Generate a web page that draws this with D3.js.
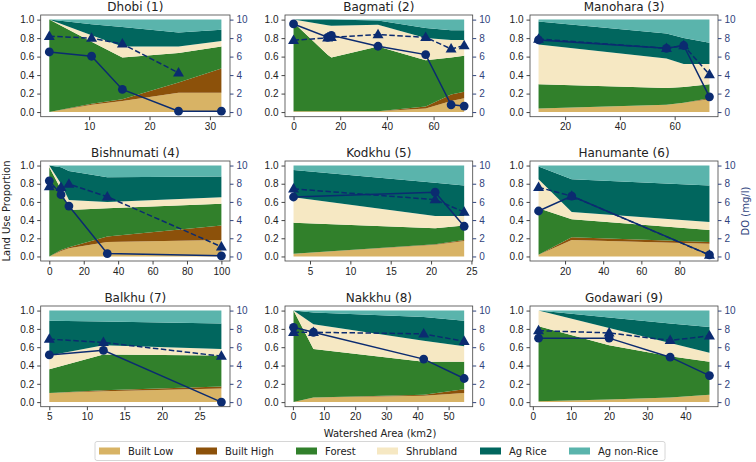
<html>
<head>
<script src="https://cdnjs.cloudflare.com/ajax/libs/d3/7.8.5/d3.min.js"></script>
<style>
  body { margin: 0; background: #fff; }
  svg { font-family: "DejaVu Sans", sans-serif; }
  .tick text { font-size: 10px; }
</style>
</head>
<body>
<svg width="756" height="462"></svg>
<script>
// ---- data ----
var sites = ["Dhobi (1)", "Bagmati (2)", "Manohara (3)", "Bishnumati (4)", "Kodkhu (5)",
             "Hanumante (6)", "Balkhu (7)", "Nakkhu (8)", "Godawari (9)"];
var classes = ["Built Low", "Built High", "Forest", "Shrubland", "Ag Rice", "Ag non-Rice"];
var colors = ["#d8b365", "#8c510a", "#31802b", "#f6e8c3", "#01665e", "#5ab4ac"];

// watershed area (km2) of the sampling points
var areaKm2 = [
  [3.4, 10.4, 15.5, 24.8, 31.9],
  [0, 14.6, 16.2, 36.2, 56.6, 67.5, 73.1],
  [10.3, 57, 63.3, 72.7],
  [0, 6.8, 11.4, 33.7, 100],
  [2.96, 20.5, 24.1],
  [6.1, 23.5, 95.7],
  [5, 12.2, 27.9],
  [0.2, 6.6, 42, 55],
  [1.5, 20, 36, 46.3]
];
var builtLow = [
  [0, .08, .12, .21, .21],
  [.01, .01, .01, .01, .04, .12, .15],
  [.04, .08, .10, .14],
  [0, .06, .09, .16, .18],
  [.03, .13, .17],
  [.02, .18, .14],
  [.10, .12, .15],
  [0, .05, .07, .10],
  [.01, .03, .05, .08]
];
var builtHigh = [
  [0, .01, .02, .11, .26],
  [0, 0, 0, 0, .02, .07, .07],
  [0, 0, 0, .01],
  [0, .01, .01, .06, .16],
  [0, .005, .01],
  [0, .03, .02],
  [0, .01, .02],
  [0, 0, .01, .04],
  [0, 0, 0, 0]
];
var forest = [
  [1.0, .67, .45, .32, .24],
  [.96, .61, .58, .70, .50, .40, .39],
  [.26, .18, .17, .15],
  [.98, .67, .41, .31, .24],
  [.34, .175, .16],
  [.51, .20, .13],
  [.26, .39, .34],
  [1.0, .53, .36, .30],
  [.82, .59, .45, .36]
];
var shrubland = [
  [0, .07, .12, .07, .06],
  [.03, .32, .345, .235, .24, .19, .17],
  [.43, .32, .25, .22],
  [.02, .06, .11, .07, .07],
  [.28, .135, .105],
  [.32, .08, .09],
  [.15, .10, .07],
  [0, .27, .23, .17],
  [.17, .19, .145, .10]
];
var agRice = [
  [0, .12, .21, .15, .12],
  [0, .06, .065, .045, .11, .105, .105],
  [.25, .27, .28, .23],
  [0, .18, .32, .27, .23],
  [.30, .365, .335],
  [.14, .36, .40],
  [.38, .26, .28],
  [0, .13, .26, .28],
  [0, .115, .215, .28]
];
var agNonRice = [
  [0, .05, .08, .14, .11],
  [0, 0, 0, .01, .09, .115, .115],
  [.02, .15, .20, .25],
  [0, .02, .06, .13, .12],
  [.05, .19, .22],
  [.01, .15, .22],
  [.11, .12, .14],
  [0, .02, .07, .11],
  [0, .075, .14, .18]
];
// dissolved oxygen (mg/l): solid line with circles, dashed line with triangles
var doSolid = [
  [6.5, 6.04, 2.45, 0.1, 0.1],
  [9.53, 8.09, 8.3, 7.12, 6.22, 0.79, 0.65],
  [7.8, 6.9, 7.2, 1.65],
  [8.32, 6.8, 5.54, 0.32, 0.07],
  [6.54, 7.07, 3.32],
  [5.0, 6.64, 0.18],
  [5.16, 5.66, 0.0],
  [8.17, 7.63, 4.7, 2.58],
  [6.99, 6.99, 4.91, 2.9]
];
var doDashed = [
  [8.2, 8.0, 7.37, 4.24, null],
  [7.77, 8.02, 8.09, 8.38, 8.09, 6.83, 7.19],
  [7.9, 6.9, 7.2, 4.06],
  [7.68, 7.6, 7.96, 6.57, 1.07],
  [7.43, 6.25, 4.89],
  [7.6, 6.64, 0.15],
  [6.88, 6.52, 5.02],
  [7.63, 7.63, 7.46, 6.63],
  [7.81, 7.56, 6.74, 7.24]
];
var xTicks = [
  [10, 20, 30], [0, 20, 40, 60], [20, 40, 60],
  [0, 20, 40, 60, 80, 100], [5, 10, 15, 20, 25], [20, 40, 60, 80],
  [5, 10, 15, 20, 25], [0, 10, 20, 30, 40, 50], [0, 10, 20, 30, 40]
];
var propTicks = [0, 0.2, 0.4, 0.6, 0.8, 1.0];
var doTicks = [0, 2, 4, 6, 8, 10];

// ---- layout ----
var svg = d3.select("svg");
var cols = [[40.7, 230], [285, 472.7], [530, 718]];
var rows = [[15, 116.7], [161, 261], [306, 406.7]];
var lineColor = "#0b2b70";
var rightColor = "#2f437d";
var seriesByClass = [builtLow, builtHigh, forest, shrubland, agRice, agNonRice];

sites.forEach(function(name, i){
  var c = cols[i % 3], r = rows[Math.floor(i / 3)];
  var xs = areaKm2[i];
  var ext = d3.extent(xs), pad = (ext[1] - ext[0]) * 0.05;
  var x = d3.scaleLinear().domain([ext[0] - pad, ext[1] + pad]).range([c[0], c[1]]);
  var y = d3.scaleLinear().domain([-0.05, 1.05]).range([r[1], r[0]]);
  var y2 = d3.scaleLinear().domain([-0.5, 10.5]).range([r[1], r[0]]);

  var table = xs.map(function(v, k){
    var row = {x: v};
    classes.forEach(function(cl, j){ row[cl] = seriesByClass[j][i][k]; });
    return row;
  });
  var stacked = d3.stack().keys(classes)(table);
  var area = d3.area()
    .x(function(d){ return x(d.data.x); })
    .y0(function(d){ return y(d[0]); })
    .y1(function(d){ return y(d[1]); });

  var g = svg.append("g");
  g.selectAll("path.area").data(stacked).enter().append("path")
    .attr("class", "area")
    .attr("d", area)
    .attr("fill", function(d, j){ return colors[j]; });

  // DO lines
  var solidPts = xs.map(function(v, k){ return [v, doSolid[i][k]]; });
  var dashPts = xs.map(function(v, k){ return [v, doDashed[i][k]]; })
    .filter(function(p){ return p[1] !== null; });
  var line = d3.line().x(function(p){ return x(p[0]); }).y(function(p){ return y2(p[1]); });

  g.append("path").attr("d", line(dashPts)).attr("fill", "none")
    .attr("stroke", lineColor).attr("stroke-width", 1.5).attr("stroke-dasharray", "5.5,2.5");
  g.selectAll("path.tri").data(dashPts).enter().append("path")
    .attr("class", "tri")
    .attr("d", d3.symbol().type(d3.symbolTriangle).size(52))
    .attr("transform", function(p){ return "translate(" + x(p[0]) + "," + (y2(p[1]) + 0.5) + ")"; })
    .attr("fill", lineColor);

  g.append("path").attr("d", line(solidPts)).attr("fill", "none")
    .attr("stroke", lineColor).attr("stroke-width", 1.5);
  g.selectAll("circle").data(solidPts).enter().append("circle")
    .attr("cx", function(p){ return x(p[0]); })
    .attr("cy", function(p){ return y2(p[1]); })
    .attr("r", 4.4)
    .attr("fill", lineColor);

  // frame
  g.append("rect").attr("x", c[0]).attr("y", r[0])
    .attr("width", c[1] - c[0]).attr("height", r[1] - r[0])
    .attr("fill", "none").attr("stroke", "#444").attr("stroke-width", 0.8);

  var ax = g.append("g").attr("transform", "translate(0," + r[1] + ")")
    .call(d3.axisBottom(x).tickValues(xTicks[i]).tickSize(3.5).tickPadding(3).tickFormat(d3.format("d")));
  var ayl = g.append("g").attr("transform", "translate(" + c[0] + ",0)")
    .call(d3.axisLeft(y).tickValues(propTicks).tickSize(3.5).tickPadding(3).tickFormat(d3.format(".1f")));
  var ayr = g.append("g").attr("transform", "translate(" + c[1] + ",0)")
    .call(d3.axisRight(y2).tickValues(doTicks).tickSize(3.5).tickPadding(3).tickFormat(d3.format("d")));
  [ax, ayl, ayr].forEach(function(a){
    a.select(".domain").remove();
    a.selectAll(".tick line").attr("stroke", "#444");
    a.selectAll(".tick text").attr("fill", "#222");
  });
  ayr.selectAll(".tick line").attr("stroke", rightColor);
  ayr.selectAll(".tick text").attr("fill", rightColor);

  g.append("text").attr("x", (c[0] + c[1]) / 2).attr("y", r[0] - 4)
    .attr("text-anchor", "middle").attr("font-size", 12).attr("fill", "#222").text(name);
});

// axis titles
svg.append("text").attr("transform", "translate(10,211) rotate(-90)")
  .attr("text-anchor", "middle").attr("font-size", 10).attr("fill", "#222").text("Land Use Proportion");
svg.append("text").attr("transform", "translate(749,211) rotate(-90)")
  .attr("text-anchor", "middle").attr("font-size", 10).attr("fill", rightColor).text("DO (mg/l)");
svg.append("text").attr("x", 380).attr("y", 437)
  .attr("text-anchor", "middle").attr("font-size", 10).attr("fill", "#222").text("Watershed Area (km2)");

// legend
var legendX = [99, 196, 296, 377, 480, 569];
var lg = svg.append("g");
lg.append("rect").attr("x", 95).attr("y", 441.5).attr("width", 570).attr("height", 19)
  .attr("fill", "#fff").attr("stroke", "#ccc").attr("stroke-width", 0.8).attr("rx", 2);
classes.forEach(function(cl, j){
  lg.append("rect").attr("x", legendX[j]).attr("y", 447.5).attr("width", 21).attr("height", 7)
    .attr("fill", colors[j]);
  lg.append("text").attr("x", legendX[j] + 29).attr("y", 455)
    .attr("font-size", 10).attr("fill", "#222").text(cl);
});
</script>
</body>
</html>
